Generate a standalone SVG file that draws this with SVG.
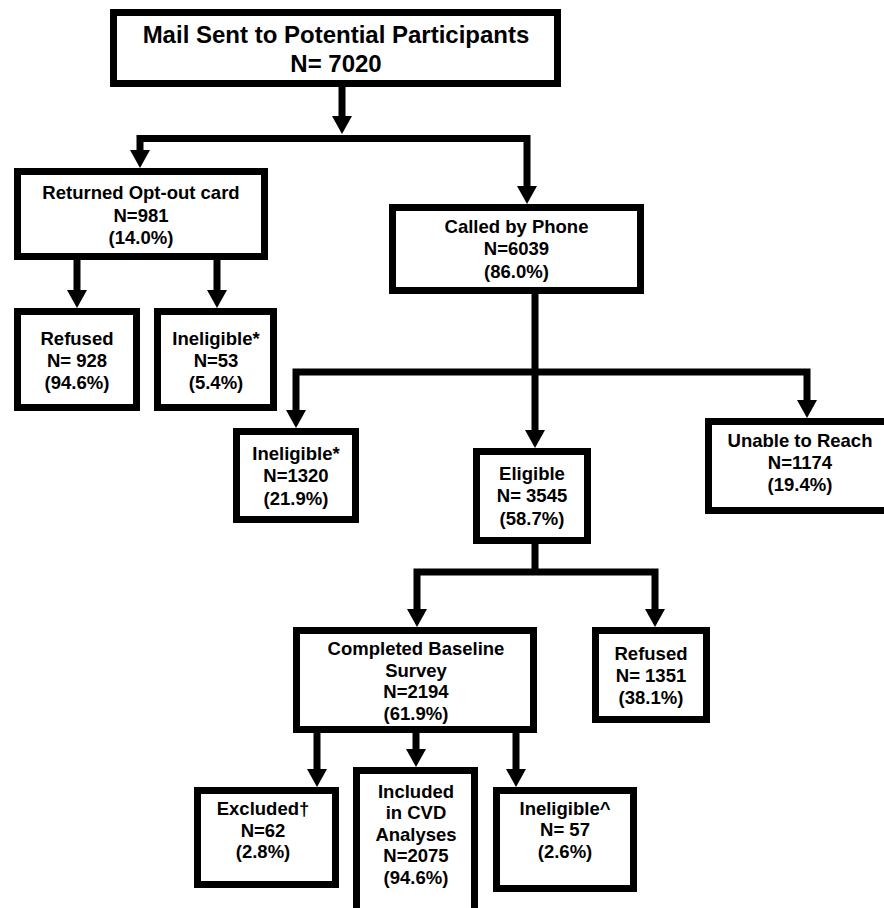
<svg xmlns="http://www.w3.org/2000/svg" width="884" height="908" viewBox="0 0 884 908">
<style>
.box{fill:#fff;stroke:#000;stroke-width:7;stroke-linejoin:miter}
.t{font-family:"Liberation Sans",Arial,sans-serif;font-weight:bold;font-size:18.5px;fill:#000;text-anchor:middle}
.big{font-size:24px}
.c{fill:none;stroke:#000;stroke-width:7;stroke-linejoin:miter;stroke-linecap:butt}
</style>
<defs>
<marker id="ah" viewBox="0 0 18 20" refX="4" refY="10" markerWidth="18" markerHeight="20" markerUnits="userSpaceOnUse" orient="auto-start-reverse">
<path d="M0,0 L18,10 L0,20 Z" fill="#000"/>
</marker>
</defs>
<rect width="884" height="908" fill="#fff"/>
<g id="connectors">
<path class="c" d="M342,87 V120" marker-end="url(#ah)"/>
<path class="c" d="M140,154 V138.5 H527 V190" marker-start="url(#ah)" marker-end="url(#ah)"/>
<path class="c" d="M77,260 V294" marker-end="url(#ah)"/>
<path class="c" d="M217,260 V294" marker-end="url(#ah)"/>
<path class="c" d="M535,294 V434" marker-end="url(#ah)"/>
<path class="c" d="M296,414 V372 H807 V404" marker-start="url(#ah)" marker-end="url(#ah)"/>
<path class="c" d="M535,544 V572"/>
<path class="c" d="M417,613 V572 H655 V613" marker-start="url(#ah)" marker-end="url(#ah)"/>
<path class="c" d="M317,733 V773" marker-end="url(#ah)"/>
<path class="c" d="M416,733 V753" marker-end="url(#ah)"/>
<path class="c" d="M516,733 V773" marker-end="url(#ah)"/>
</g>
<g id="mail">
<rect class="box" x="113.5" y="12.5" width="444" height="71"/>
<text class="t big" x="336" y="43">Mail Sent to Potential Participants</text>
<text class="t big" x="336" y="72">N= 7020</text>
</g>
<g id="optout">
<rect class="box" x="17.5" y="171.5" width="247" height="85"/>
<text class="t" x="141" y="199">Returned Opt-out card</text>
<text class="t" x="141" y="222">N=981</text>
<text class="t" x="141" y="244">(14.0%)</text>
</g>
<g id="refused1">
<rect class="box" x="17.5" y="311.5" width="119" height="96"/>
<text class="t" x="77" y="345">Refused</text>
<text class="t" x="77" y="367">N= 928</text>
<text class="t" x="77" y="389">(94.6%)</text>
</g>
<g id="ineligible1">
<rect class="box" x="157.5" y="311.5" width="116" height="96"/>
<text class="t" x="216" y="345">Ineligible*</text>
<text class="t" x="216" y="367">N=53</text>
<text class="t" x="216" y="389">(5.4%)</text>
</g>
<g id="called">
<rect class="box" x="392.5" y="207.5" width="248" height="83"/>
<text class="t" x="516.5" y="233">Called by Phone</text>
<text class="t" x="516.5" y="255">N=6039</text>
<text class="t" x="516.5" y="278">(86.0%)</text>
</g>
<g id="ineligible2">
<rect class="box" x="236.5" y="431.5" width="119" height="88"/>
<text class="t" x="296" y="460">Ineligible*</text>
<text class="t" x="296" y="482">N=1320</text>
<text class="t" x="296" y="505">(21.9%)</text>
</g>
<g id="eligible">
<rect class="box" x="476.5" y="451.5" width="111" height="89"/>
<text class="t" x="532" y="480">Eligible</text>
<text class="t" x="532" y="502">N= 3545</text>
<text class="t" x="532" y="525">(58.7%)</text>
</g>
<g id="unable">
<rect class="box" x="708.5" y="421.5" width="183" height="89"/>
<text class="t" x="800" y="447">Unable to Reach</text>
<text class="t" x="800" y="469">N=1174</text>
<text class="t" x="800" y="491">(19.4%)</text>
</g>
<g id="completed">
<rect class="box" x="296.5" y="630.5" width="237" height="99"/>
<text class="t" x="416" y="655">Completed Baseline</text>
<text class="t" x="416" y="677">Survey</text>
<text class="t" x="416" y="698">N=2194</text>
<text class="t" x="416" y="720">(61.9%)</text>
</g>
<g id="refused2">
<rect class="box" x="595.5" y="630.5" width="111" height="89"/>
<text class="t" x="651" y="660">Refused</text>
<text class="t" x="651" y="682">N= 1351</text>
<text class="t" x="651" y="704">(38.1%)</text>
</g>
<g id="excluded">
<rect class="box" x="197.5" y="790.5" width="138" height="94"/>
<text class="t" x="263" y="815">Excluded†</text>
<text class="t" x="263" y="837">N=62</text>
<text class="t" x="263" y="858">(2.8%)</text>
</g>
<g id="included">
<rect class="box" x="356.5" y="770.5" width="118" height="145"/>
<text class="t" x="416" y="798">Included</text>
<text class="t" x="416" y="819">in CVD</text>
<text class="t" x="416" y="841">Analyses</text>
<text class="t" x="416" y="862">N=2075</text>
<text class="t" x="416" y="884">(94.6%)</text>
</g>
<g id="ineligible3">
<rect class="box" x="496.5" y="790.5" width="137" height="98"/>
<text class="t" x="565" y="815">Ineligible^</text>
<text class="t" x="565" y="836">N= 57</text>
<text class="t" x="565" y="858">(2.6%)</text>
</g>
</svg>
